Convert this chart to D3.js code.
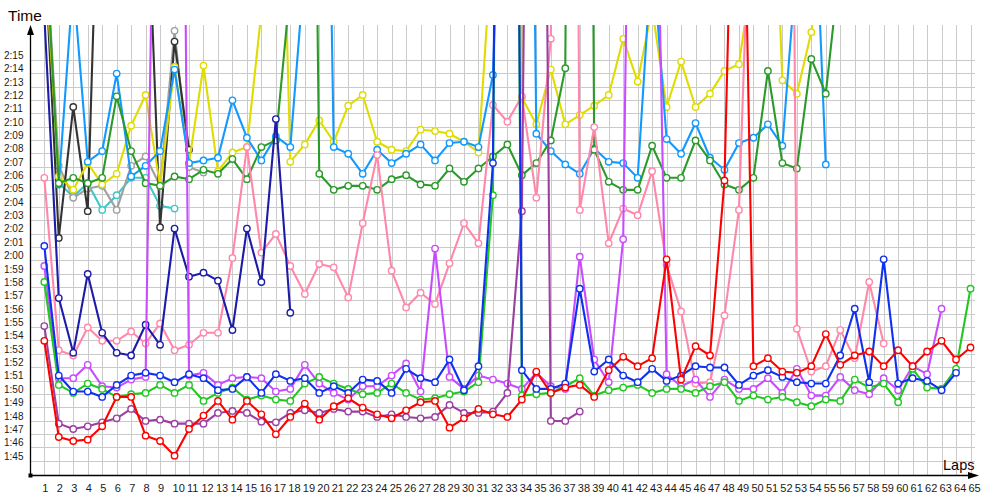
<!DOCTYPE html>
<html><head><meta charset="utf-8">
<script src="https://cdn.jsdelivr.net/npm/d3@7"></script>
<style>body{margin:0;background:#fff}svg{display:block}</style>
</head><body><svg id="c" width="1000" height="500"></svg>
<script>
// ---- data (lap times in seconds; null = no lap) ----
const laps = d3.range(1, 66);
const yTickValues = d3.range(105, 136); // 1:45 .. 2:15
const xTickLabels = laps.map(String);

const redTimes = [113.6,106.4,106.1,106.2,107.2,109.4,109.4,106.5,106.1,105.0,107.0,108.0,109.1,107.7,109.1,108.1,106.6,107.9,108.9,107.7,108.7,109.3,108.6,108.1,107.8,108.4,109.0,109.1,107.1,107.8,108.5,108.1,107.9,109.2,111.3,109.7,110.1,110.3,109.4,111.4,112.4,111.7,112.3,119.7,110.7,113.2,112.5,125.6,170,111.7,112.3,111.3,111.2,111.7,114.1,111.8,112.5,112.8,111.7,112.9,111.7,112.8,113.6,112.2,113.1];
const purpleTimes = [114.7,107.4,107.0,107.2,107.5,107.8,108.5,107.6,107.7,107.4,107.4,107.4,108.2,108.35,108.2,107.55,107.5,108.2,108.4,108.2,108.5,108.3,108.3,107.9,108.1,107.9,107.8,107.9,108.8,108.2,108.2,108.3,109.7,123.3,230,107.6,107.6,108.3];
const limeTimes = [118.0,110.3,109.7,110.4,110.0,109.4,109.6,109.7,110.3,109.7,110.3,109.1,109.7,110.1,109.2,109.5,109.2,109.1,110.4,110.9,110.4,110.0,109.6,109.7,110.4,109.7,109.2,109.3,109.6,109.8,110.5,124.5,260,109.5,109.6,109.7,110.2,110.8,109.5,109.9,110.1,110.3,109.7,110.0,110.0,109.7,110.2,110.5,109.1,109.5,109.2,109.4,109.0,108.7,109.2,109.1,110.7,110.1,110.4,109.0,111.5,110.1,110.0,111.5,117.5];
const blueTimes = [120.7,111.0,109.8,109.8,109.4,110.3,111.0,111.2,111.0,110.5,111.1,110.8,109.9,110.0,110.9,109.7,111.1,110.6,110.8,109.7,110.2,109.7,110.7,110.6,109.7,111.5,110.8,110.5,112.2,109.9,111.7,126.9,260,111.4,110.0,110.0,110.4,117.5,111.3,112.2,111.0,110.5,111.5,110.6,111.0,111.7,111.6,111.6,110.3,111.0,111.4,110.9,110.5,110.4,110.4,112.5,116.0,110.5,119.7,110.4,110.8,110.6,109.9,111.2];
const magentaTimes = [119.2,110.8,110.8,111.8,110.2,110.1,110.7,110.9,182,226,111.0,111.2,110.3,110.8,110.9,110.8,109.8,110.0,111.8,110.4,109.7,109.2,110.2,110.2,111.0,111.9,109.8,120.5,110.9,110.0,111.0,110.7,110.4,110.0,111.2,110.2,110.0,119.9,112.2,110.5,121.2,201,169,111.1,110.2,110.7,109.4,110.7,110.0,110.0,110.8,109.7,111.5,109.5,109.5,110.9,109.9,109.6,110.8,109.9,111.7,111.1,116.0];
const pinkTimes = [125.8,112.9,112.5,114.6,113.6,113.6,114.3,113.4,114.9,112.9,113.3,114.2,114.2,119.8,128.1,120.2,121.6,119.2,117.1,119.35,119.1,116.85,122.4,127.5,118.85,116.1,117.2,116.35,119.4,122.4,120.9,131.25,130.0,131.9,124.3,136.2,300,123.4,129.6,120.9,123.5,123.0,126.3,119.3,115.8,110.4,110.5,115.5,123.4,155,200,250,114.5,111.3,111.7,114.4,112.3,118.0,113.4];
const navyTimes = [138,116.8,112.7,118.6,114.2,112.7,112.5,114.8,113.3,122.0,118.4,118.7,118.1,114.4,122.0,118.0,130.2,115.7];
const darkGreenTimes = [145,125.4,125.8,125.4,125.8,131.9,127.8,125.4,125.2,125.9,125.7,126.4,126.1,127.2,125.7,128.1,128.6,140,220,126.1,124.9,125.2,125.2,124.9,125.7,126.0,125.3,125.2,126.5,125.5,126.5,127.4,128.3,126.0,126.9,128.6,134.0,300,127.9,125.5,124.9,124.9,128.2,125.8,125.8,128.6,127.1,125.3,124.9,125.8,133.8,126.9,126.5,134.7,132.1,142];
const lightBlueTimes = [null,125.3,140.5,127.0,127.8,133.6,125.9,126.7,127.8,133.9,126.9,127.1,127.3,131.6,128.8,127.1,128.9,128.1,141.7,194,128.1,127.6,126.1,127.9,126.9,127.6,128.3,127.1,128.4,128.5,128.1,133.5,165,220,129.1,127.8,126.8,126.1,128.0,127.0,126.9,125.8,143,128.7,127.6,129.9,127.3,126.4,128.4,128.8,129.8,128.2,142.1,153.4,126.8];
const yellowTimes = [143,125.9,124.9,126.9,125.3,126.1,129.7,132.0,125.2,134.1,126.9,134.2,126.3,127.7,128.1,138.2,168,127.0,128.3,130.1,128.5,131.2,132.0,128.5,127.9,127.8,129.4,129.3,129.1,128.5,127.7,144.4,250,131.8,129.8,133.9,129.8,130.5,131.2,132.0,136.2,133.0,138.5,131.1,134.5,131.1,132.1,133.8,134.3,141.8,160.6,133.1,132.1,136.7,145];
const blackTimes = [143.4,121.3,131.1,123.3,159,175,170,151,122.1,136.0,127.9];
const grayTimes = [145,126.7,124.3,125.0,125.2,123.4,126.7,127.4,125.2,136.8,126.6,126.2];
const cyanTimes = [144.8,125.4,124.4,125.4,123.4,124.5,125.8,125.8,123.7,123.5];

const seriesNames = ["cyan","gray","black","yellow","lightblue","darkgreen","pink","navy","magenta","purple","lime","blue","red"];
const seriesColors = ["#3cc8c8","#a0a0a0","#333333","#e0dc00","#1199ff","#2b9a2b","#ff88aa","#1c1ca8","#c84bff","#9b3fa0","#20c820","#1030f0","#ff0000"];
const seriesData = [cyanTimes,grayTimes,blackTimes,yellowTimes,lightBlueTimes,darkGreenTimes,pinkTimes,navyTimes,magentaTimes,purpleTimes,limeTimes,blueTimes,redTimes];

// ---- chart ----
const svg = d3.select("#c");
const x = d3.scaleLinear().domain([1, 65]).range([44.3, 970.5]);
const y = d3.scaleLinear().domain([105, 135]).range([455.7, 54.9]);
const mLeft = 30, mTop = 25, mBottom = 475, mRight = 975;

const fmt = s => Math.floor(s / 60) + ":" + String(Math.round(s % 60)).padStart(2, "0");

// grid
const grid = svg.append("g").attr("stroke", "#cacaca").attr("stroke-width", 1).attr("shape-rendering", "crispEdges");
grid.selectAll(".v").data(laps).join("line").attr("class", "v")
  .attr("x1", d => Math.round(x(d)) + 0.5).attr("x2", d => Math.round(x(d)) + 0.5)
  .attr("y1", mTop).attr("y2", mBottom);
grid.selectAll(".h").data(yTickValues).join("line").attr("class", "h")
  .attr("x1", mLeft).attr("x2", mRight)
  .attr("y1", d => Math.round(y(d) + 5) + 0.5).attr("y2", d => Math.round(y(d) + 5) + 0.5);

// clip
svg.append("clipPath").attr("id", "clip").append("rect")
  .attr("x", mLeft + 1).attr("y", mTop).attr("width", mRight - mLeft + 10).attr("height", mBottom - mTop - 1);

const plot = svg.append("g").attr("clip-path", "url(#clip)");
const line = d3.line().defined(d => d[1] != null).x(d => x(d[0])).y(d => y(d[1]));

seriesData.forEach((arr, i) => {
  const pts = arr.map((v, j) => [laps[j], v]);
  const g = plot.append("g").attr("class", seriesNames[i]);
  g.append("path").datum(pts).attr("d", line)
    .attr("fill", "none").attr("stroke", seriesColors[i]).attr("stroke-width", 2.1)
    .attr("stroke-linejoin", "round");
  g.selectAll("circle").data(pts.filter(p => p[1] != null)).join("circle")
    .attr("cx", d => x(d[0])).attr("cy", d => y(d[1])).attr("r", 3.2)
    .attr("fill", "#fff").attr("stroke", seriesColors[i]).attr("stroke-width", 1.4);
});

// axes
const yAxis = d3.axisLeft(y).tickValues(yTickValues).tickSize(0).tickFormat(fmt);
const ya = svg.append("g").attr("transform", `translate(${mLeft},0)`).call(yAxis);
ya.select(".domain").remove();
ya.selectAll("text").attr("x", 4 - mLeft).attr("text-anchor", "start").attr("dy", "0.34em")
  .attr("font-family", "Liberation Sans, Arial, sans-serif").attr("font-size", 10).attr("fill", "#1a1a1a");

const xAxis = d3.axisBottom(x).tickValues(laps).tickSize(0).tickFormat((d, i) => xTickLabels[i]);
const xa = svg.append("g").attr("transform", `translate(0,${mBottom})`).call(xAxis);
xa.select(".domain").remove();
xa.selectAll("text").attr("x", -2.5).attr("y", 16.8).attr("dy", 0).attr("text-anchor", "start")
  .attr("font-family", "Liberation Sans, Arial, sans-serif").attr("font-size", 11).attr("fill", "#1a1a1a");

// axis lines with arrows
svg.append("line").attr("x1", mLeft + 0.5).attr("x2", mLeft + 0.5).attr("y1", mBottom).attr("y2", 30)
  .attr("stroke", "#000").attr("stroke-width", 1.3);
svg.append("path").attr("d", `M${mLeft + 0.5},25 L${mLeft - 3},35 L${mLeft + 4},35 Z`).attr("fill", "#000");
svg.append("line").attr("x1", mLeft).attr("x2", 972).attr("y1", mBottom + 0.5).attr("y2", mBottom + 0.5)
  .attr("stroke", "#000").attr("stroke-width", 1.3);
svg.append("path").attr("d", `M979,${mBottom + 0.5} L968,${mBottom - 3} L968,${mBottom + 4} Z`).attr("fill", "#000");
svg.append("rect").attr("x", mLeft - 1.5).attr("y", mBottom - 1.5).attr("width", 4).attr("height", 4).attr("fill", "#000");

svg.append("text").attr("x", 8).attr("y", 20.5).text("Time")
  .attr("font-family", "Liberation Sans, Arial, sans-serif").attr("font-size", 15.5).attr("fill", "#1a0000");
svg.append("text").attr("x", 943).attr("y", 469.5).text("Laps")
  .attr("font-family", "Liberation Sans, Arial, sans-serif").attr("font-size", 14.5).attr("fill", "#1a0000");
</script></body></html>
